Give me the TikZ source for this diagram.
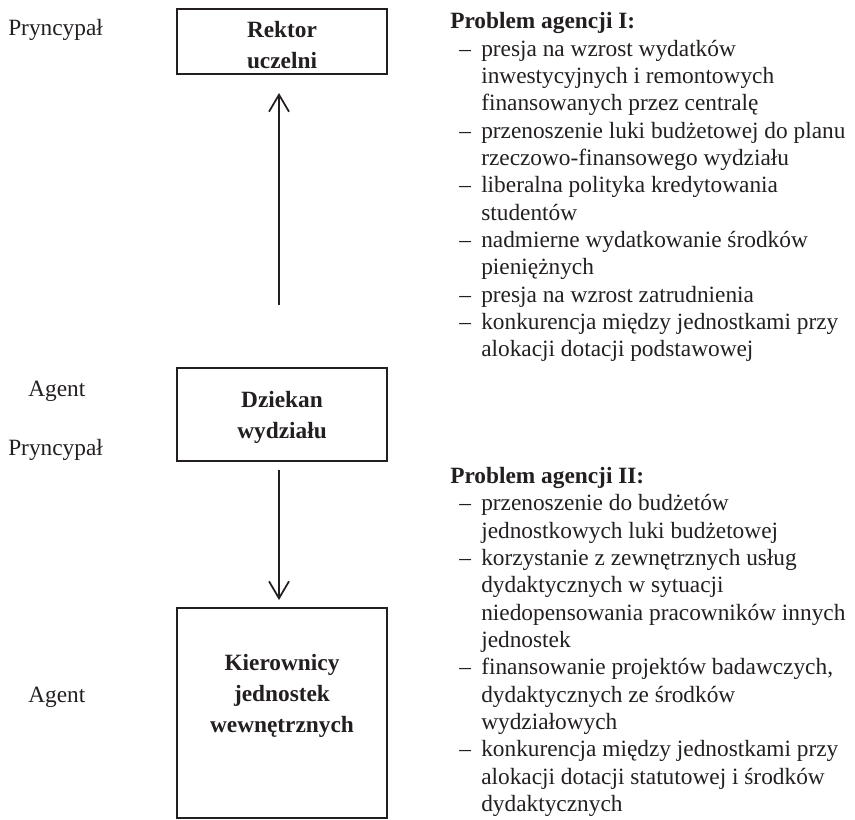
\documentclass[tikz,border=0pt]{standalone}
\usepackage{fontspec}
\setmainfont{Liberation Serif}
\usetikzlibrary{arrows.meta,positioning}
\definecolor{ink}{HTML}{231F20}
\newdimen\pxu \pxu=0.75pt
\newcommand{\itemdash}{\makebox[31\pxu][l]{\hspace*{9\pxu}–}}
\newcommand{\itemcont}{\hspace*{31\pxu}}

\begin{document}
\begin{tikzpicture}[
    x=0.75pt, y=-0.75pt,
    every node/.style={text=ink},
    actor/.style={rectangle, draw=ink, line width=1.8pt, outer sep=0pt, inner sep=0pt, minimum width=210\pxu},
    actortext/.style={align=center, inner sep=0pt, font=\fontsize{17.5}{23.25}\selectfont\bfseries},
    role/.style={anchor=base west, inner sep=0pt, font=\fontsize{17.5}{21}\selectfont},
    issues/.style={anchor=north west, inner sep=0pt, align=left, font=\fontsize{17.5}{20.5}\selectfont},
    arrow/.style={-{Straight Barb[length=12.75pt,width=15pt]}, draw=ink, line width=1.3pt}
]
\useasboundingbox (0,0) rectangle (855,819);

% Boxes
\node[actor, minimum height=65\pxu, label={[actortext, yshift=-3.5\pxu]center:Rektor\\uczelni}] (rektor) at (282,41.5) {};
\node[actor, minimum height=93\pxu, below=294\pxu of rektor, label={[actortext, yshift=-2.5\pxu]center:Dziekan\\wydziału}] (dziekan) {};
\node[actor, minimum height=210\pxu, below=147\pxu of dziekan, label={[actortext, yshift=17.5\pxu]center:Kierownicy\\jednostek\\wewnętrznych}] (kier) {};

% Roles
\node[role] (pryn1) at (8,35) {Pryncypał};
\node[role] (agent1) at (28,396) {Agent};
\node[role] (pryn2) at (8,455) {Pryncypał};
\node[role] (agent2) at (28,702) {Agent};

% Arrows
\draw[arrow, shorten <=63\pxu, shorten >=19\pxu] ([xshift=-3\pxu]dziekan.north) -- ([xshift=-3\pxu]rektor.south);
\draw[arrow, shorten <=9\pxu, shorten >=8\pxu] ([xshift=-3\pxu]dziekan.south) -- ([xshift=-3\pxu]kier.north);

% Problems
\node[issues] (probI) at (450,12.5) {\textbf{Problem agencji I:}\\
\itemdash presja na wzrost wydatków\\
\itemcont inwestycyjnych i remontowych\\
\itemcont finansowanych przez centralę\\
\itemdash przenoszenie luki budżetowej do planu\\
\itemcont rzeczowo-finansowego wydziału\\
\itemdash liberalna polityka kredytowania\\
\itemcont studentów\\
\itemdash nadmierne wydatkowanie środków\\
\itemcont pieniężnych\\
\itemdash presja na wzrost zatrudnienia\\
\itemdash konkurencja między jednostkami przy\\
\itemcont alokacji dotacji podstawowej};
\node[issues] (probII) at (450,467) {\textbf{Problem agencji II:}\\
\itemdash przenoszenie do budżetów\\
\itemcont jednostkowych luki budżetowej\\
\itemdash korzystanie z zewnętrznych usług\\
\itemcont dydaktycznych w sytuacji\\
\itemcont niedopensowania pracowników innych\\
\itemcont jednostek\\
\itemdash finansowanie projektów badawczych,\\
\itemcont dydaktycznych ze środków\\
\itemcont wydziałowych\\
\itemdash konkurencja między jednostkami przy\\
\itemcont alokacji dotacji statutowej i środków\\
\itemcont dydaktycznych};

\end{tikzpicture}
\end{document}
